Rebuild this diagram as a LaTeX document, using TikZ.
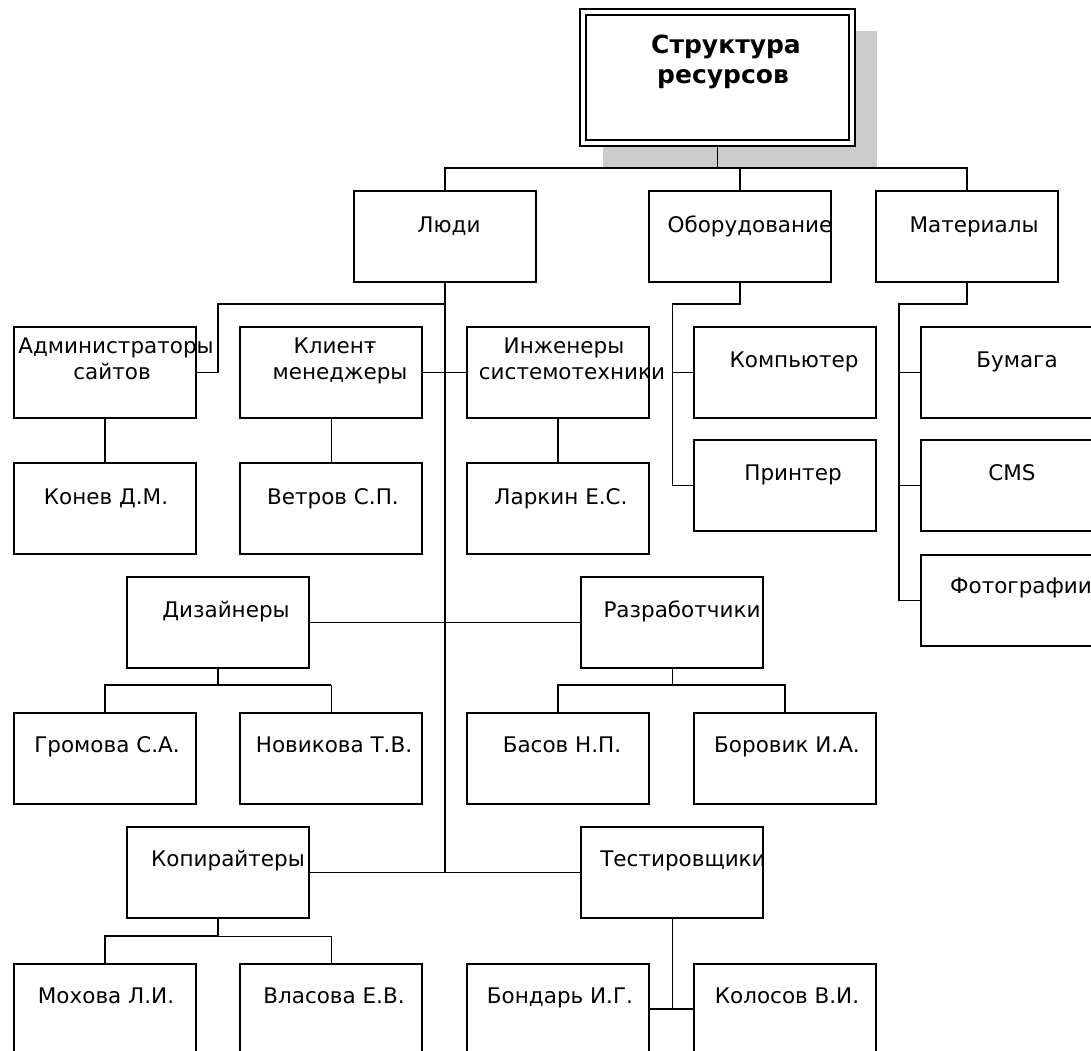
\documentclass[tikz,border=0pt]{standalone}
\usepackage{fontspec}
\setmainfont{DejaVu Sans}
\newcommand\myini[2]{#1.#2.}
\definecolor{shadowgray}{RGB}{204,204,204}
\begin{document}
\begin{tikzpicture}[x=1pt,y=-1pt,
  box/.style={draw, line width=1.8pt, rectangle, minimum width=182pt, minimum height=91pt, anchor=north west, inner sep=0pt, outer sep=0pt, fill=white},
  lbl/.style={anchor=base, inner sep=0pt, font=\fontsize{21.5}{26}\selectfont},
  ttl/.style={anchor=base, inner sep=0pt, font=\fontsize{25}{30}\selectfont\bfseries},
  thk/.style={line width=1.8pt},
  thn/.style={line width=1pt}]
\useasboundingbox (0,0) rectangle (1091,1050);
\clip (0,0) rectangle (1091,1050);
% shadow and title box
\fill[shadowgray] (603,31) rectangle (877,168);
\node[draw, line width=1.8pt, rectangle, minimum width=275pt, minimum height=137pt, anchor=north west, inner sep=0pt, outer sep=0pt, fill=white] (topbox) at (580,9) {};
\draw[thk] ([shift={(6,6)}]topbox.north west) rectangle ([shift={(-6,-6)}]topbox.south east);
% level 1
\node[box] (ludi) at (354,191) {};
\node[box] (obor) at (649,191) {};
\node[box] (mat) at (876,191) {};
% people row 1
\node[box] (admin) at (14,327) {};
\node[box] (client) at (240,327) {};
\node[box] (eng) at (467,327) {};
\node[box] (konev) at (14,463) {};
\node[box] (vetrov) at (240,463) {};
\node[box] (larkin) at (467,463) {};
% equipment / materials
\node[box] (comp) at (694,327) {};
\node[box] (printer) at (694,440) {};
\node[box] (paper) at (921,327) {};
\node[box] (cms) at (921,440) {};
\node[box] (photo) at (921,555) {};
% designers / developers
\node[box] (design) at (127,577) {};
\node[box] (dev) at (581,577) {};
\node[box] (gromova) at (14,713) {};
\node[box] (novikova) at (240,713) {};
\node[box] (basov) at (467,713) {};
\node[box] (borovik) at (694,713) {};
% copywriters / testers
\node[box] (copy) at (127,827) {};
\node[box] (test) at (581,827) {};
\node[box] (mokhova) at (14,964) {};
\node[box] (vlasova) at (240,964) {};
\node[box] (bondar) at (467,964) {};
\node[box] (kolosov) at (694,964) {};
% junction coordinates
\coordinate (bus0) at (718,168);
\coordinate (jA) at (218,304);
\coordinate (jB) at (672,304);
\coordinate (jC) at (899,304);
\coordinate (jD) at (218,685);
\coordinate (jE) at (672,685);
\coordinate (jF) at (218,936);
\coordinate (jG) at (672,1009);
% connectors
\draw[thk] (topbox.south) -- (topbox.south |- bus0);
\draw[thk] (ludi.north) |- (bus0) -| (mat.north);
\draw[thk] (obor.north) -- (obor.north |- bus0);
\draw[thk] (ludi.south) -- (ludi.south |- copy.east);
\draw[thk] (ludi.south |- jA) -- (jA) |- (admin.east);
\draw[thk] (client.east) -- (eng.west);
\draw[thk] (admin.south) -- (konev.north);
\draw[thn] (client.south) -- (vetrov.north);
\draw[thk] (eng.south) -- (larkin.north);
\draw[thk] (obor.south) |- (jB);
\draw[thn] (jB) -- (jB |- printer.west);
\draw[thk] (jB |- comp.west) -- (comp.west);
\draw[thk] (jB |- printer.west) -- (printer.west);
\draw[thk] (mat.south) |- (jC) -- (jC |- photo.west) -- (photo.west);
\draw[thk] (jC |- paper.west) -- (paper.west);
\draw[thk] (jC |- cms.west) -- (cms.west);
\draw[thk] (design.east) -- (dev.west);
\draw[thk] (design.south) -- (jD);
\draw[thk] (gromova.north) |- (jD) -- (jD -| novikova.north);
\draw[thn] (jD -| novikova.north) -- (novikova.north);
\draw[thn] (dev.south) -- (jE);
\draw[thk] (basov.north) |- (jE) -| (borovik.north);
\draw[thn] (copy.east) -- (test.west);
\draw[thk] (copy.south) -- (jF);
\draw[thk] (mokhova.north) |- (jF);
\draw[thn] (jF) -| (vlasova.north);
\draw[thn] (test.south) -- (jG);
\draw[thk] (jG -| bondar.east) -- (jG -| kolosov.west);
% labels
\node[ttl] (t-top1) at (726,53) {Структура};
\node[ttl] (t-top2) at (723,83) {ресурсов};
\node[lbl] (t-ludi) at (449,232) {Люди};
\node[lbl] (t-obor) at (750,232) {Оборудование};
\node[lbl] (t-mat) at (974,232) {Материалы};
\node[lbl] (t-admin1) at (116,353) {Администраторы};
\node[lbl] (t-admin2) at (112,379) {сайтов};
\node[lbl] (t-client1) at (334,353) {Клиент\kern-0.45em-};
\node[lbl] (t-client2) at (340,379) {менеджеры};
\node[lbl] (t-eng1) at (564,353) {Инженеры};
\node[lbl] (t-eng2) at (572,379) {системотехники};
\node[lbl] (t-comp) at (794,367) {Компьютер};
\node[lbl] (t-print) at (793,480) {Принтер};
\node[lbl] (t-paper) at (1017,367) {Бумага};
\node[lbl] (t-cms) at (1012,480) {CMS};
\node[lbl] (t-photo) at (1021,593) {Фотографии};
\node[lbl] (t-konev) at (106,504) {Конев \myini{Д}{М}};
\node[lbl] (t-vetrov) at (333,504) {Ветров \myini{С}{П}};
\node[lbl] (t-larkin) at (561,504) {Ларкин \myini{Е}{С}};
\node[lbl] (t-design) at (226,617) {Дизайнеры};
\node[lbl] (t-dev) at (682,617) {Разработчики};
\node[lbl] (t-gromova) at (107,752) {Громова \myini{С}{А}};
\node[lbl] (t-novikova) at (334,752) {Новикова \myini{Т}{В}};
\node[lbl] (t-basov) at (562,752) {Басов \myini{Н}{П}};
\node[lbl] (t-borovik) at (787,752) {Боровик \myini{И}{А}};
\node[lbl] (t-copy) at (228,866) {Копирайтеры};
\node[lbl] (t-test) at (683,866) {Тестировщики};
\node[lbl] (t-mokhova) at (106,1003) {Мохова \myini{Л}{И}};
\node[lbl] (t-vlasova) at (334,1003) {Власова \myini{Е}{В}};
\node[lbl] (t-bondar) at (560,1003) {Бондарь \myini{И}{Г}};
\node[lbl] (t-kolosov) at (787,1003) {Колосов \myini{В}{И}};
\end{tikzpicture}
\end{document}
